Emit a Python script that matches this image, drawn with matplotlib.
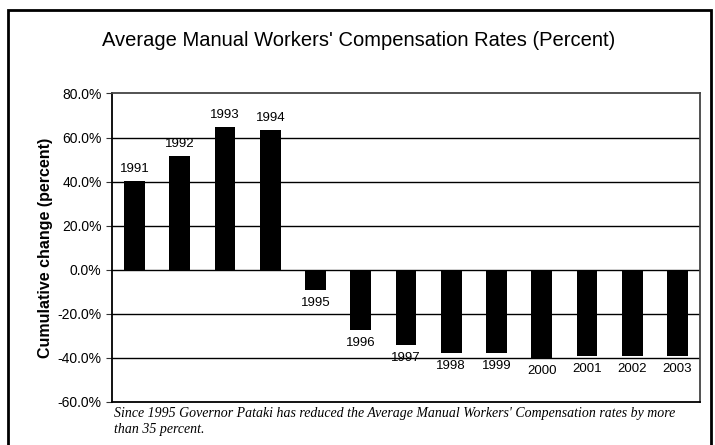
import matplotlib.pyplot as plt
from matplotlib.patches import Rectangle
from matplotlib.ticker import FuncFormatter

# cumulative change by year
years = ["1991", "1992", "1993", "1994", "1995", "1996", "1997",
         "1998", "1999", "2000", "2001", "2002", "2003"]
change = [40.4, 51.8, 64.8, 63.5, -9.1, -27.3, -34.4,
          -37.7, -37.7, -40.2, -39.4, -39.4, -39.4]
yticks = [-60, -40, -20, 0, 20, 40, 60, 80]

plt.rcParams["font.family"] = ["Liberation Sans", "DejaVu Sans"]

fig = plt.figure(figsize=(7.15, 4.45), dpi=100)
ax = fig.add_axes([0.1566, 0.0973, 0.8224, 0.6926])

x = range(len(years))
ax.bar(x, change, width=0.46, color="black", zorder=3)

# year labels above positive bars, below negative ones
for i, (yr, v) in enumerate(zip(years, change)):
    if v >= 0:
        ax.annotate(yr, (i, v), xytext=(0, 4), textcoords="offset points",
                    ha="center", va="bottom", fontsize=9.5)
    else:
        ax.annotate(yr, (i, v), xytext=(0, -5), textcoords="offset points",
                    ha="center", va="top", fontsize=9.5)

for t in yticks[1:-1]:
    ax.axhline(t, color="black", lw=1, zorder=1)

ax.set_xlim(-0.5, len(years) - 0.5)
ax.set_ylim(-60, 80)
ax.set_yticks(yticks)
ax.yaxis.set_major_formatter(FuncFormatter(lambda v, p: f"{v:.1f}%"))
ax.tick_params(axis="y", labelsize=10, length=4, direction="out", color="#333333")
ax.set_xticks([])
for side in ["left", "bottom", "top", "right"]:
    ax.spines[side].set_linewidth(1.3)
ax.spines["left"].set_color("black")
ax.spines["bottom"].set_color("black")
ax.spines["top"].set_color("#444444")
ax.spines["right"].set_color("#444444")
ax.set_ylabel("Cumulative change (percent)", fontsize=11.5, fontweight="bold",
              labelpad=3)

fig.text(0.502, 0.91, "Average Manual Workers' Compensation Rates (Percent)",
         ha="center", va="center", fontsize=14.5)

fig.text(0.159, 0.086,
         "Since 1995 Governor Pataki has reduced the Average Manual Workers' "
         "Compensation rates by more\nthan 35 percent.",
         ha="left", va="top", fontsize=10, style="italic",
         family=["Liberation Serif", "DejaVu Serif"], linespacing=1.35)

# outer frame round the whole chart
fig.patches.append(Rectangle((8 / 715, -0.05), 703 / 715, 1.05 - 10 / 445,
                             transform=fig.transFigure, fill=False,
                             edgecolor="black", lw=2))

fig.savefig("out.png", dpi=100)
